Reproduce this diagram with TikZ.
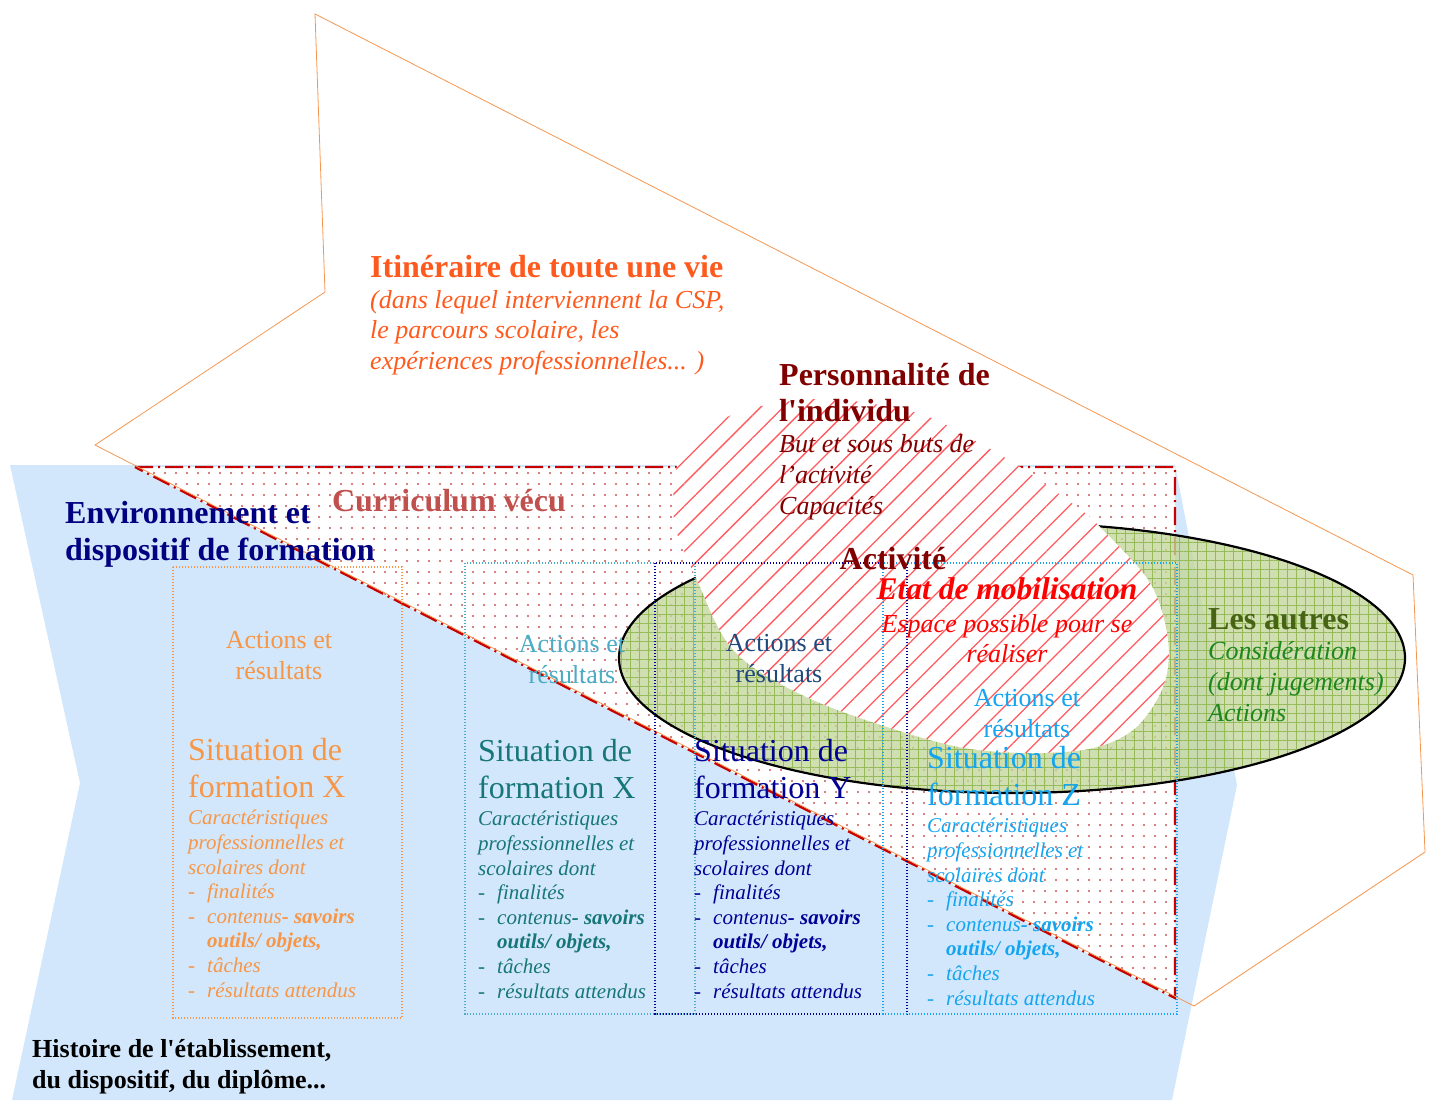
\documentclass[tikz,border=0pt]{standalone}
\usepackage{fontspec}
\setmainfont{Liberation Serif}
\usetikzlibrary{patterns.meta}

\definecolor{itinred}{RGB}{255,90,30}
\definecolor{itinline}{RGB}{245,150,80}
\definecolor{envblue}{RGB}{210,231,251}
\definecolor{envnavy}{RGB}{0,0,128}
\definecolor{currtxt}{RGB}{192,80,77}
\definecolor{currdot}{RGB}{200,85,85}
\definecolor{currline}{RGB}{200,0,0}
\definecolor{persred}{RGB}{128,0,0}
\definecolor{persline}{RGB}{255,90,95}
\definecolor{mobred}{RGB}{255,0,0}
\definecolor{autresfill}{RGB}{196,215,155}
\definecolor{autresgrid}{RGB}{150,185,90}
\definecolor{autresdark}{RGB}{70,100,20}
\definecolor{autresgreen}{RGB}{30,135,30}
\definecolor{orgX}{RGB}{247,150,70}
\definecolor{tealA}{RGB}{75,172,198}
\definecolor{tealS}{RGB}{23,118,120}
\definecolor{navyA}{RGB}{31,73,125}
\definecolor{navyS}{RGB}{0,0,150}
\definecolor{skyZ}{RGB}{20,165,240}

\newcommand{\fsz}[2]{\fontsize{#1}{#2}\selectfont}
\newcommand{\itm}[1]{\makebox[19pt][l]{-}#1}
\newcommand{\caracs}{Caractéristiques\\ professionnelles et\\ scolaires dont\\
  \itm{finalités}\\ \itm{contenus\textbf{- savoirs}}\\ \hspace*{19pt}\textbf{outils/ objets,}\\
  \itm{tâches}\\ \itm{résultats attendus}}

% multi-line nodes are placed by the baseline of their last line
\tikzset{
  boxline/.style={line width=1.4pt, dash pattern=on 1.4pt off 1.6pt},
  sittitle/.style={anchor=base west, align=left, inner sep=0pt, font=\fsz{32}{36.5}},
  sitdetail/.style={anchor=base west, align=left, inner sep=0pt, font=\itshape\fsz{21}{24.6}},
  actres/.style={anchor=base, align=center, inner sep=0pt, font=\fsz{26}{31}},
}

\begin{document}
\begin{tikzpicture}[x=1pt,y=-1pt]
\useasboundingbox (0,0) rectangle (1431,1100);

% environnement et dispositif (blue arrow)
\fill[envblue] (10,465) -- (1175,465) -- (1237,785) -- (1172,1100) -- (12,1100) -- (80,783) -- cycle;

% curriculum vecu
\fill[white] (135,467) -- (1175,467) -- (1175,998) -- cycle;
\fill[pattern={Dots[distance=11pt,radius=1.2pt]}, pattern color=currdot]
  (135,467) -- (1175,467) -- (1175,998) -- cycle;
\draw[currline, line width=2.4pt, dash pattern=on 18pt off 5pt on 2pt off 5pt]
  (135,467) -- (1175,467) -- (1175,998) -- cycle;

% itineraire (big chevron)
\draw[itinline, line width=.8pt] (315,14) -- (1413,575) -- (1425,852) -- (1194,1006)
  -- (95,445) -- (325,292) -- cycle;

% les autres
\fill[autresfill, fill opacity=.8] (1012,658) ellipse [x radius=393pt, y radius=135pt];
\fill[pattern={Hatch[angle=0,distance=9pt,line width=.6pt]}, pattern color=autresgrid]
  (1012,658) ellipse [x radius=393pt, y radius=135pt];
\draw[line width=2.2pt] (1012,658) ellipse [x radius=393pt, y radius=135pt];

% personnalite de l'individu
\path[fill=white, postaction={pattern={Lines[angle=45,distance=16pt,line width=1.3pt]}, pattern color=persline}]
  plot[smooth cycle, tension=.55] coordinates {(680,455) (710,426) (757,407) (830,399) (917,413)
    (970,438) (1020,467) (1077,507) (1100,527) (1150,583) (1168,640) (1163,687) (1133,730)
    (1083,750) (1000,752) (930,740) (813,700) (735,652) (697,580) (674,520)};

% situations de formation
\draw[boxline, orgX] (173,567) rectangle (402,1018);
\draw[boxline, tealA] (465,563) rectangle (695,1014);
\draw[boxline, navyS] (655,563) rectangle (907,1014);
\draw[boxline, skyZ] (883,563) rectangle (1177,1014);

% texts
\begin{scope}[every node/.style={anchor=base west, align=left, inner sep=0pt}]
  \node[text=itinred, font=\bfseries\fsz{32}{36}] (itin) at (370,277) {Itinéraire de toute une vie};
  \node[text=itinred, font=\itshape\fsz{26}{30.5}] (itindet) at (370,369)
    {(dans lequel interviennent la CSP,\\ le parcours scolaire, les\\ expériences professionnelles... )};
  \node[text=persred, font=\bfseries\fsz{32}{36}] (pers) at (779,421)
    {Personnalité de\\ l\textquotesingle individu};
  \node[text=persred, font=\itshape\fsz{26}{31}] (persdet) at (779,514)
    {But et sous buts de\\ l’activité\\ Capacités};
  \node[text=envnavy, font=\bfseries\fsz{32}{37}] (env) at (65,560) {Environnement et\\ dispositif de formation};
  \node[text=currtxt, font=\bfseries\fsz{32}{36}, anchor=base] (curr) at (449,511) {Curriculum vécu};
  \node[text=persred, font=\bfseries\fsz{32}{36}, anchor=base] (act) at (893,569) {Activité};
  \node[text=mobred, font=\bfseries\itshape\fsz{31.5}{36}, anchor=base] (mob) at (1007,599) {Etat de mobilisation};
  \node[text=mobred, font=\itshape\fsz{26}{30}, anchor=base, align=center] (espace) at (1007,662)
    {Espace possible pour se\\ réaliser};
  \node[text=autresdark, font=\bfseries\fsz{32}{36}] (autres) at (1208,629) {Les autres};
  \node[text=autresgreen, font=\itshape\fsz{26}{31}] (autresdet) at (1208,721)
    {Considération\\ (dont jugements)\\ Actions};
  \node[text=black, font=\bfseries\fsz{26}{31}] (hist) at (32,1088)
    {Histoire de l\textquotesingle établissement,\\ du dispositif, du diplôme...};
\end{scope}

\node[actres, text=orgX] (actX) at (279,679) {Actions et\\ résultats};
\node[sittitle, text=orgX] (sitX) at (188,797) {Situation de\\ formation X};
\node[sitdetail, text=orgX] (detX) at (188,997) {\caracs};

\node[actres, text=tealA] (actXb) at (572,683) {Actions et\\ résultats};
\node[sittitle, text=tealS] (sitXb) at (478,798) {Situation de\\ formation X};
\node[sitdetail, text=tealS] (detXb) at (478,998) {\caracs};

\node[actres, text=navyA] (actY) at (779,682) {Actions et\\ résultats};
\node[sittitle, text=navyS] (sitY) at (694,798) {Situation de\\ formation Y};
\node[sitdetail, text=navyS] (detY) at (694,998) {\caracs};

\node[actres, text=skyZ] (actZ) at (1027,737) {Actions et\\ résultats};
\node[sittitle, text=skyZ] (sitZ) at (927,805) {Situation de\\ formation Z};
\node[sitdetail, text=skyZ] (detZ) at (927,1005) {\caracs};
\end{tikzpicture}
\end{document}
